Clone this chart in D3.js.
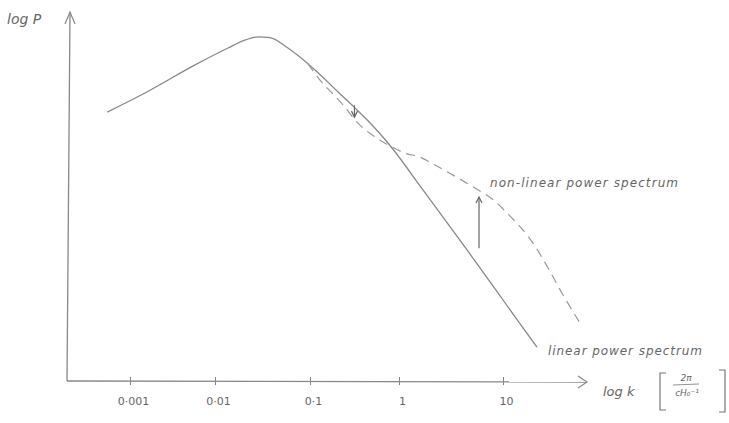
<!DOCTYPE html>
<html>
<head>
<meta charset="utf-8">
<script src="https://cdn.jsdelivr.net/npm/d3@7"></script>
<style>
  body { margin: 0; background: #fff; }
  text { font-family: "DejaVu Sans", sans-serif; fill: #666; }
</style>
</head>
<body>
<script>
// sketch of linear vs non-linear matter power spectrum
const w = 729
const h = 423

// k values (2pi / c H0^-1) and log P in arbitrary units
const linearK = [0.00054, 0.0015, 0.00582, 0.0137, 0.0207, 0.0284, 0.0379, 0.0586, 0.114, 0.2065, 0.321, 0.498, 0.752, 1.70, 4.51, 12.5, 21.2]
const linearP = [7.47, 8.0, 8.78, 9.25, 9.47, 9.56, 9.54, 9.25, 8.64, 8.03, 7.58, 7.11, 6.61, 5.31, 3.64, 1.86, 0.94]

const nonlinK = [0.0953, 0.1295, 0.1766, 0.235, 0.337, 0.537, 0.792, 1.14, 1.59, 2.22, 3.45, 5.38, 7.84, 11.7, 15.6, 20.3, 27.1, 37.8, 55.0]
const nonlinP = [8.81, 8.36, 8.0, 7.67, 7.19, 6.78, 6.53, 6.33, 6.22, 6.0, 5.69, 5.36, 5.06, 4.58, 4.19, 3.75, 3.14, 2.39, 1.61]

const tickK = [0.001, 0.01, 0.1, 1, 10]
const tickLabels = ["0·001", "0·01", "0·1", "1", "10"]

// arrows: [k, from P, to P]
const arrowK = [0.316, 5.88]
const arrowFrom = [7.66, 3.69]
const arrowTo = [7.33, 5.11]

// hand drawn decades are not evenly spaced
let x = d3.scaleLog().domain(tickK).range([130, 215, 310, 399, 503])
let y = d3.scaleLinear().domain([0, 10]).range([381, 21])

let svg = d3.select("body").append("svg").attr("width", w).attr("height", h)

const ink = "#888"
const x0 = 67, y0 = 381

// axes
svg.append("line").attr("x1", x0).attr("y1", y0).attr("x2", 70).attr("y2", 12)
  .attr("stroke", ink).attr("stroke-width", 1.3)
svg.append("path").attr("d", "M65,24 L70,12 L75,24")
  .attr("fill", "none").attr("stroke", ink).attr("stroke-width", 1.2)

let xAxis = svg.append("g")
  .attr("transform", "translate(0," + y0 + ")")
  .call(d3.axisBottom(x).tickValues(tickK).tickSize(4).tickPadding(12)
    .tickFormat((d, i) => tickLabels[i]))
xAxis.select(".domain").remove()
xAxis.selectAll(".tick line").attr("y1", -4).attr("stroke", ink)
xAxis.selectAll(".tick text").attr("font-size", 11).attr("fill", "#666")
  .attr("font-family", "DejaVu Sans, sans-serif").attr("dx", 3)

svg.append("line").attr("x1", x0).attr("y1", y0).attr("x2", 587).attr("y2", y0 + 1)
  .attr("stroke", ink).attr("stroke-width", 1.3)
svg.append("path").attr("d", "M578,376 L587,382 L578,388")
  .attr("fill", "none").attr("stroke", ink).attr("stroke-width", 1.2)

// curves
let line = d3.line().x(d => x(d[0])).y(d => y(d[1])).curve(d3.curveMonotoneX)

svg.append("path")
  .datum(d3.zip(linearK, linearP))
  .attr("d", line)
  .attr("fill", "none").attr("stroke", ink).attr("stroke-width", 1.3)

svg.append("path")
  .datum(d3.zip(nonlinK, nonlinP))
  .attr("d", line)
  .attr("fill", "none").attr("stroke", "#999").attr("stroke-width", 1.2)
  .attr("stroke-dasharray", "9,6")

// arrows
for (i = 0; i < arrowK.length; i++) {
  let ax = x(arrowK[i]), a1 = y(arrowFrom[i]), a2 = y(arrowTo[i])
  let dir = a2 < a1 ? 1 : -1
  svg.append("line").attr("x1", ax).attr("y1", a1).attr("x2", ax).attr("y2", a2)
    .attr("stroke", "#666").attr("stroke-width", 1.2)
  svg.append("path")
    .attr("d", `M${ax - 3},${a2 + dir * 6} L${ax},${a2} L${ax + 3},${a2 + dir * 6}`)
    .attr("fill", "none").attr("stroke", "#666").attr("stroke-width", 1.2)
}

// labels
svg.append("text").attr("x", 7).attr("y", 24).attr("font-size", 14)
  .attr("font-style", "italic").text("log P")

svg.append("text").attr("x", 490).attr("y", 187).attr("font-size", 12)
  .attr("font-style", "italic").attr("textLength", 188).attr("lengthAdjust", "spacing")
  .text("non-linear power spectrum")

svg.append("text").attr("x", 548).attr("y", 355).attr("font-size", 12)
  .attr("font-style", "italic").attr("textLength", 154).attr("lengthAdjust", "spacing")
  .text("linear power spectrum")

svg.append("text").attr("x", 603).attr("y", 396).attr("font-size", 13)
  .attr("font-style", "italic").text("log k")

// unit bracket [ 2pi / cH0^-1 ]
svg.append("path").attr("d", "M666,373 L660,373 L660,410 L666,410")
  .attr("fill", "none").attr("stroke", "#777").attr("stroke-width", 1.2)
svg.append("path").attr("d", "M719,370 L725,370 L725,412 L719,412")
  .attr("fill", "none").attr("stroke", "#777").attr("stroke-width", 1.2)
svg.append("text").attr("x", 686).attr("y", 381).attr("font-size", 9)
  .attr("text-anchor", "middle").attr("font-style", "italic").text("2π")
svg.append("line").attr("x1", 673).attr("y1", 385).attr("x2", 699).attr("y2", 384)
  .attr("stroke", "#888").attr("stroke-width", 0.9)
svg.append("text").attr("x", 687).attr("y", 396).attr("font-size", 9)
  .attr("text-anchor", "middle").attr("font-style", "italic").text("cH₀⁻¹")
</script>
</body>
</html>
